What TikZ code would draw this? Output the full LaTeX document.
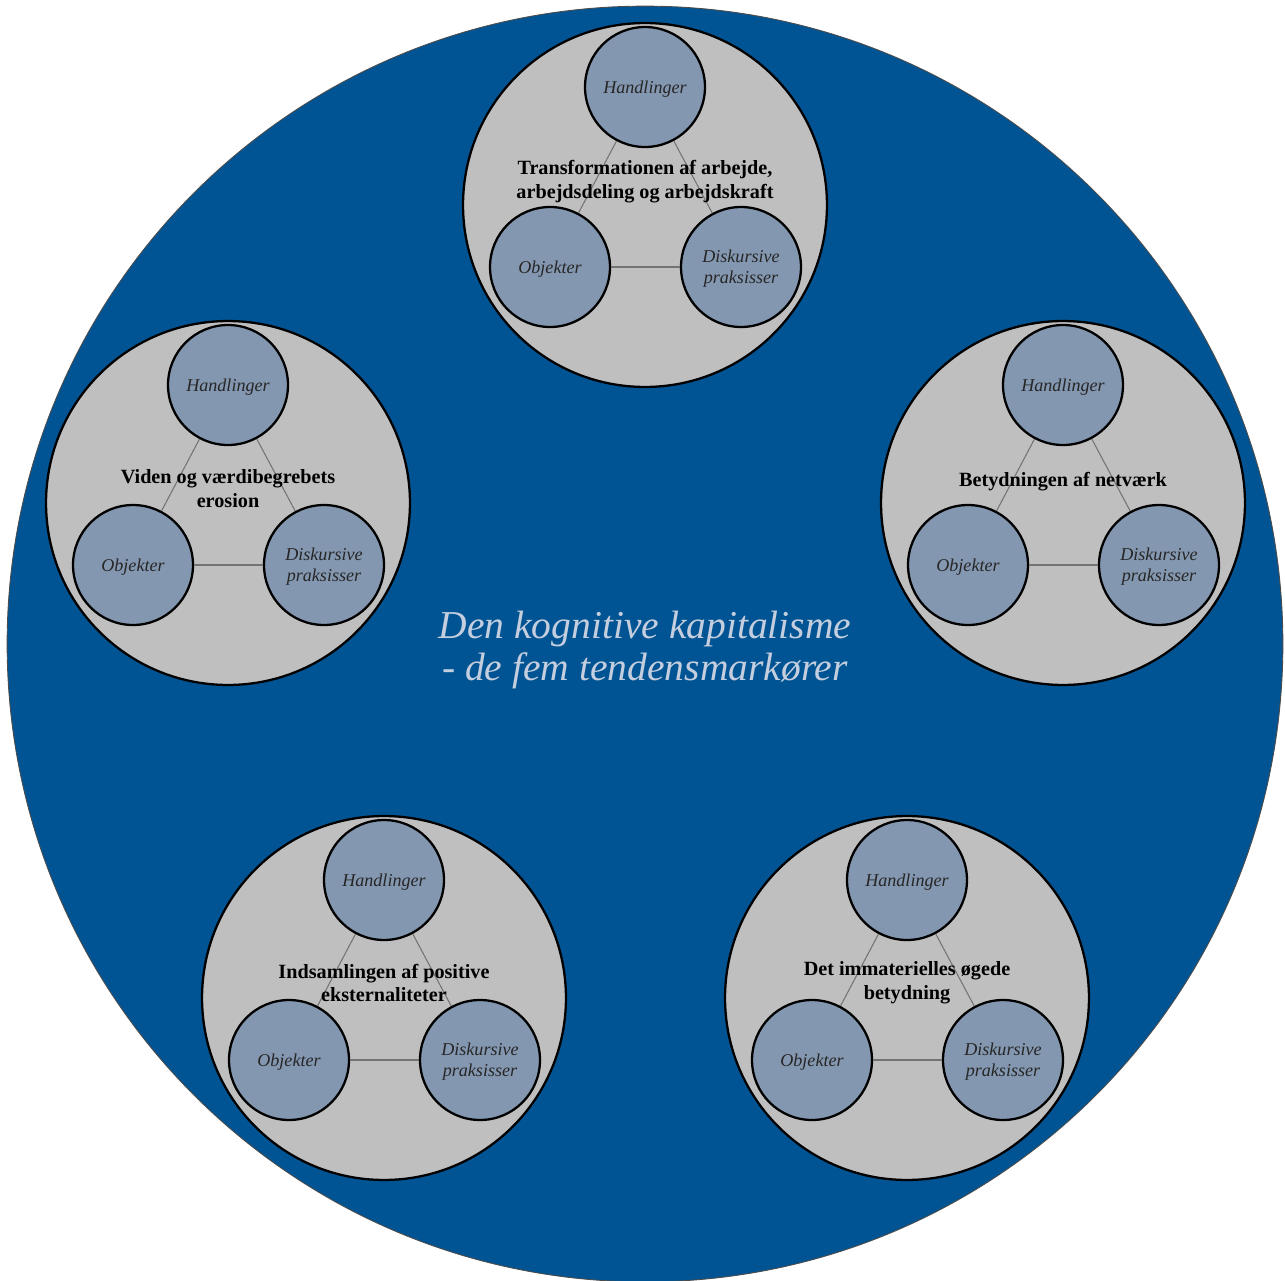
\documentclass[tikz,border=0pt]{standalone}
\usepackage{fontspec}
\setmainfont{Liberation Serif}
\usepackage{xcolor}
\usetikzlibrary{positioning,calc}
\definecolor{capblue}{RGB}{0,84,147}
\definecolor{clgray}{RGB}{191,191,191}
\definecolor{itemc}{RGB}{132,151,176}
\definecolor{capttl}{RGB}{196,206,222}

\begin{document}
\begin{tikzpicture}[
  x=0.02cm, y=-0.02cm,
  disc/.style={circle, fill=capblue, draw=black!70, line width=0.5pt, minimum size=25.52cm, inner sep=0pt},
  cluster/.style={circle, draw=black, line width=1.3pt, fill=clgray, minimum size=7.28cm, inner sep=0pt},
  item/.style={circle, draw=black, line width=1.3pt, fill=itemc, minimum size=2.4cm, inner sep=0pt,
               align=center, text=black!85, text depth=0pt, font=\fontsize{10.3}{12}\selectfont\itshape},
  tie/.style={draw=black!55, line width=0.6pt},
  ttl/.style={align=center, font=\fontsize{11.5}{13.6}\selectfont\bfseries},
  maintitle/.style={align=center, text=capttl, font=\fontsize{22.5}{23.5}\selectfont\itshape},
]
\useasboundingbox (0,0) rectangle (1285,1281);
\node[disc] (bg) at (645,644) {};
\node[maintitle] (mt) at (645,650) {Den kognitive kapitalisme\\ - de fem tendensmarkører};
% the five markers, each with its three circles
\foreach \i/\cx/\cy/\dt/\lab in {
  1/645/205/-23/{Transformationen af arbejde,\\ arbejdsdeling og arbejdskraft},
  2/228/503/-14/{Viden og værdibegrebets\\ erosion},
  3/1063/503/-21/{Betydningen af netværk},
  4/384/998/-15/{Indsamlingen af positive\\ eksternaliteter},
  5/907/998/-15/{Det immaterielles øgede\\ betydning}}{
  \node[cluster] (c\i) at (\cx,\cy) {};
  \node[item] (h\i) at ($(c\i)+(0,-118)$) {Handlinger};
  \node[item] (o\i) at ($(c\i)+(-95,62)$) {Objekter};
  \node[item] (d\i) at ($(c\i)+(96,62)$) {Diskursive\\ praksisser};
  \draw[tie] (h\i) -- (o\i);
  \draw[tie] (h\i) -- (d\i);
  \draw[tie] (o\i) -- (d\i);
  \node[ttl] (t\i) at ($(c\i)+(0,\dt)$) {\lab};
}
\end{tikzpicture}
\end{document}
